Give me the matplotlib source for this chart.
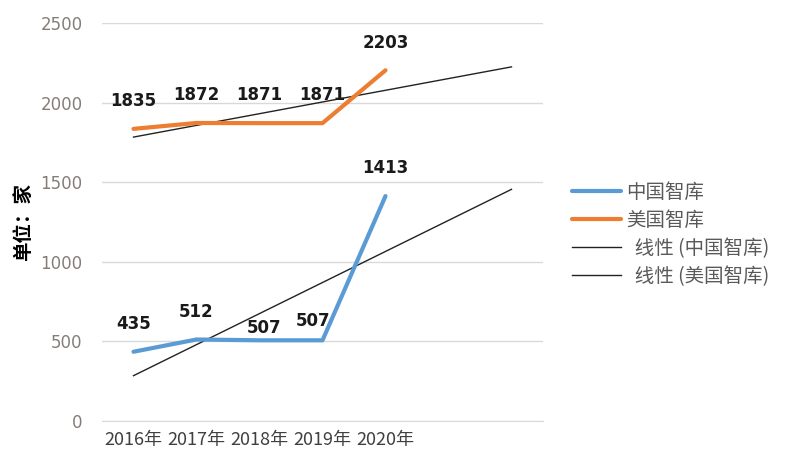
import numpy as np
import matplotlib.pyplot as plt

plt.rcParams['font.family'] = ['Noto Sans CJK SC', 'DejaVu Sans']

years = ["2016年", "2017年", "2018年", "2019年", "2020年", "", ""]
china = [435, 512, 507, 507, 1413]
usa = [1835, 1872, 1871, 1871, 2203]
# label nudges (dx, dy in points) where the original placed labels oddly
china_nudge = [(0, 0), (0, 0), (3, -11), (-7, -6), (0, 0)]
usa_nudge = [(0, 0), (0, 0), (0, 0), (0, 0), (0, 0)]

blue = "#5B9BD5"
orange = "#ED7D31"

fig = plt.figure(figsize=(7.86, 4.53), dpi=100)
ax = fig.add_axes([102 / 786, 1 - 421 / 453, 441 / 786, 398 / 453])

x = np.arange(len(china))
xt = np.arange(len(years))

l1, = ax.plot(x, china, color=blue, lw=3.0, solid_capstyle="round", zorder=3)
l2, = ax.plot(x, usa, color=orange, lw=3.0, solid_capstyle="round", zorder=3)

# linear trendlines, forecast forward two periods as in the original
fit_c = np.polyfit(x + 1, china, 1)
fit_u = np.polyfit(x + 1, usa, 1)
l3, = ax.plot(xt, np.polyval(fit_c, xt + 1), color="#222222", lw=1.0, zorder=2)
l4, = ax.plot(xt, np.polyval(fit_u, xt + 1), color="#222222", lw=1.0, zorder=2)

for xi, v, (dx, dy) in zip(x, china, china_nudge):
    ax.annotate(str(v), (xi, v), xytext=(dx, 20 + dy), textcoords="offset points",
                ha="center", va="center", fontsize=12, fontweight="bold",
                color="#1a1a1a", family="DejaVu Sans")
for xi, v, (dx, dy) in zip(x, usa, usa_nudge):
    ax.annotate(str(v), (xi, v), xytext=(dx, 20 + dy), textcoords="offset points",
                ha="center", va="center", fontsize=12, fontweight="bold",
                color="#1a1a1a", family="DejaVu Sans")

ax.set_xlim(-0.5, len(years) - 0.5)
ax.set_ylim(0, 2500)
ax.set_yticks(range(0, 2501, 500))
ax.set_xticks(xt)
ax.set_xticklabels(years, fontsize=13, color="#404040")
ax.tick_params(axis="y", labelsize=12, labelcolor="#857d78", length=0, pad=14)
ax.tick_params(axis="x", length=0, pad=7)
for lab in ax.get_yticklabels():
    lab.set_family("DejaVu Sans")
ax.grid(axis="y", color="#d9d9d9", lw=1)
ax.set_axisbelow(True)
for s in ax.spines.values():
    s.set_visible(False)
ax.spines["bottom"].set_visible(True)
ax.spines["bottom"].set_color("#d9d9d9")

ax.set_ylabel("单位：家", fontsize=14, fontweight="bold", color="black", labelpad=5)

fig.legend([l1, l2, l3, l4],
           ["中国智库", "美国智库", "  线性 (中国智库)", "  线性 (美国智库)"],
           loc="upper left", bbox_to_anchor=(572 / 786, 1 - 182 / 453),
           frameon=False, fontsize=14, labelcolor="#595959",
           handlelength=2.5, handletextpad=0.3, labelspacing=0.36, borderpad=0,
           borderaxespad=0)

fig.savefig("out.png", dpi=100)
